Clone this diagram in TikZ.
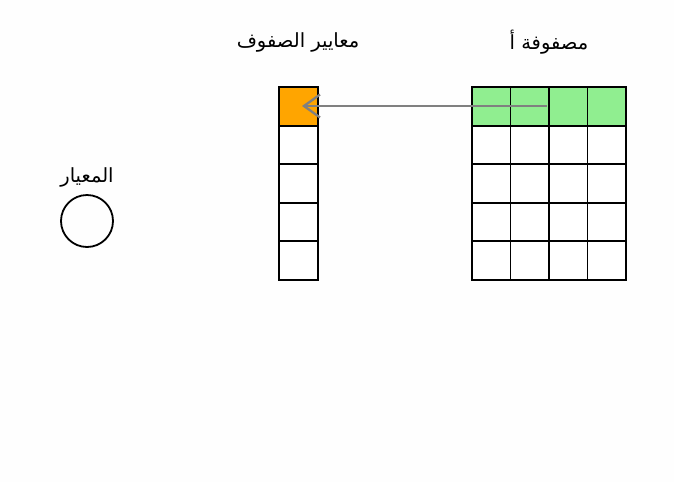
\documentclass[tikz,border=0pt]{standalone}
\usepackage{fontspec}
\setmainfont{DejaVu Sans}
\newfontfamily\arabicfont[Script=Arabic]{DejaVu Sans}
\TeXXeTstate=1
\usetikzlibrary{arrows.meta}
\definecolor{lgreen}{HTML}{90EE90}
\definecolor{orng}{HTML}{FFA500}
\definecolor{bg}{HTML}{FEFEFE}
\begin{document}
\begin{tikzpicture}[x=1pt,y=-1pt,
  cell/.style={draw=black,line width=1.9pt,minimum width=38.5pt,minimum height=38.6pt,inner sep=0pt,outer sep=0pt,anchor=center},
  lbl/.style={font=\arabicfont\fontsize{19.5}{22}\selectfont,inner sep=0pt,anchor=center},
  arr/.style={draw=gray,line width=2.3pt,-{Straight Barb[length=16pt,width=23pt,line width=2.3pt]}}]
\fill[bg] (0,0) rectangle (674,482);
\useasboundingbox (0,0) rectangle (674,482);
% matrix A
\foreach \r in {1,...,5}{
  \foreach \c in {1,...,4}{
    \pgfmathsetmacro{\xx}{472+38.5*(\c-0.5)}
    \pgfmathsetmacro{\yy}{87+38.6*(\r-0.5)}
    \ifnum\r=1
      \node[cell,fill=lgreen] (a\r\c) at (\xx,\yy) {};
    \else
      \node[cell,fill=white] (a\r\c) at (\xx,\yy) {};
    \fi
  }
}
% vector
\foreach \r in {1,...,5}{
  \pgfmathsetmacro{\yy}{87+38.6*(\r-0.5)}
  \ifnum\r=1
    \node[cell,fill=orng] (v\r) at (298.5,\yy) {};
  \else
    \node[cell,fill=white] (v\r) at (298.5,\yy) {};
  \fi
}
% circle
\node[draw=black,line width=1.8pt,circle,minimum size=52pt,inner sep=0pt] (n) at (87,221) {};
% labels
\node[lbl] (ln) at (87,177) {\beginR المعيار\endR};
\node[lbl] (lv) at (298,42) {\beginR معايير الصفوف\endR};
\node[lbl] (la) at (549,42) {\beginR مصفوفة أ\endR};
% arrow
\coordinate (s) at (547,106);
\coordinate (t) at (302,106);
\draw[arr] (s) -- (t);
\end{tikzpicture}
\end{document}
